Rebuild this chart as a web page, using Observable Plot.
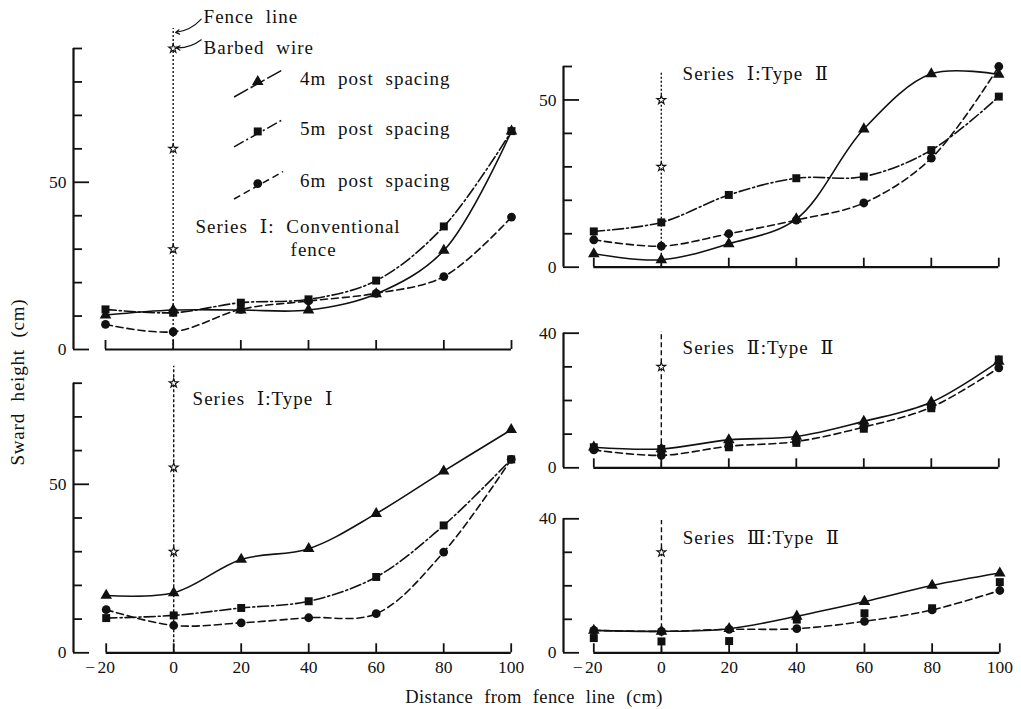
<!DOCTYPE html>
<html><head><meta charset="utf-8">
<script src="https://cdn.jsdelivr.net/npm/d3@7"></script>
<script src="https://cdn.jsdelivr.net/npm/@observablehq/plot@0.6"></script>
<style>
body{margin:0;background:#fff;}
#wrap{position:relative;width:1021px;height:709px;overflow:hidden;font-family:"Liberation Serif","DejaVu Serif",serif;color:#111;background:#fff;}
.panel{position:absolute;}
.ytitle{position:absolute;left:-82px;top:370px;width:200px;height:24px;line-height:24px;text-align:center;transform:rotate(-90deg);transform-origin:100px 12px;font-size:19px;white-space:nowrap;word-spacing:6px;letter-spacing:0.8px;}
.xtitle{position:absolute;left:334px;top:685px;width:400px;height:24px;line-height:24px;text-align:center;font-size:18.5px;white-space:nowrap;word-spacing:6px;letter-spacing:0.4px;}
</style>
</head><body>
<div id="wrap">
  <div class="ytitle">Sward height (cm)</div>
  <div class="xtitle">Distance from fence line (cm)</div>
</div>
<script>
// ---------- data ----------
const distance = [-20, 0, 20, 40, 60, 80, 100];
const spacingLabels = ["4m post spacing", "5m post spacing", "6m post spacing"];

// Series I : Conventional fence
const conv4m = [10.3, 11.8, 11.8, 11.8, 16.6, 29.6, 65.3];
const conv5m = [12.0, 11.0, 14.0, 15.0, 20.6, 36.8, 65.3];
const conv6m = [7.5, 5.3, 12.0, 14.5, 16.8, 21.8, 39.6];
// Series I : Type I
const typeI4m = [17.0, 17.8, 27.7, 30.9, 41.3, 53.9, 66.2];
const typeI5m = [10.3, 11.1, 13.3, 15.3, 22.5, 37.8, 57.4];
const typeI6m = [12.8, 8.1, 8.9, 10.4, 11.6, 29.9, 57.4];
// Series I : Type II
const s1typeII4m = [4.0, 2.2, 7.0, 14.4, 41.3, 57.8, 57.6];
const s1typeII5m = [10.7, 13.4, 21.6, 26.6, 27.1, 35.0, 51.0];
const s1typeII6m = [8.2, 6.3, 10.0, 14.1, 19.2, 32.6, 60.0];
// Series II : Type II
const s2typeII4m = [6.1, 5.6, 8.3, 9.3, 13.8, 19.5, 31.6];
const s2typeII5m = [6.1, 5.6, 6.1, 7.4, 11.6, 17.7, 32.2];
const s2typeII6m = [5.3, 3.7, 6.4, 7.8, 12.1, 18.0, 29.7];
// Series III : Type II
const s3typeII4m = [6.7, 6.4, 7.2, 10.9, 15.3, 20.1, 23.8];
const s3typeII5m = [4.4, 3.4, 3.5, 9.9, 11.8, 13.3, 21.1];
const s3typeII6m = [6.7, 6.4, 7.0, 7.2, 9.4, 12.8, 18.6];

// barbed wire heights on the fence line
const wireConv = [30, 60, 90];
const wireTypeI = [30, 55, 80];
const wireS1TypeII = [30, 50];
const wireS2TypeII = [30];
const wireS3TypeII = [30];

// y tick values
const yTicks90 = [0,10,20,30,40,50,60,70,80,90];
const yTicks80 = [0,10,20,30,40,50,60,70,80];
const yTicks60 = [0,10,20,30,40,50,60];
const yTicks40 = [0,10,20,30,40];
const yLabels50 = [0, 50];
const yLabels40 = [0, 40];

// ---------- styles ----------
const symbols = ["triangle", "square", "circle"];
const radii = [4.3, 4.5, 4.4];
const dashes = [null, "11,3,2,3", "7,4"];
const FONT = "Liberation Serif, DejaVu Serif, serif";
const LABEL = 19;

const panels = [
  {left:40, top:0, width:490, height:360, axisPx:73, xm20:105, x100:511, y0:349, yTop:48, yMax:90,
   yTicks:yTicks90, yLabels:yLabels50, series:[conv4m, conv5m, conv6m], lines:[true,true,true],
   wire:wireConv, fenceTop:96, fenceDash:"2,2", xLabels:false,
   titles:[{t:"Series Ⅰ: Conventional", x:6.6, y:36.8}, {t:"fence", x:34.7, y:29.9}], legend:true},
  {left:40, top:360, width:490, height:330, axisPx:73, xm20:105.7, x100:510.7, y0:652.3, yTop:382.7, yMax:80,
   yTicks:yTicks80, yLabels:yLabels50, series:[typeI4m, typeI5m, typeI6m], lines:[true,true,true],
   wire:wireTypeI, fenceTop:85, fenceDash:"3,2", xLabels:true,
   titles:[{t:"Series Ⅰ:Type Ⅰ", x:5.6, y:75.2}]},
  {left:530, top:50, width:490, height:240, axisPx:563, xm20:593.3, x100:998.3, y0:266.7, yTop:66, yMax:60,
   yTicks:yTicks60, yLabels:yLabels50, series:[s1typeII4m, s1typeII5m, s1typeII6m], lines:[true,true,true],
   wire:wireS1TypeII, fenceTop:58.3, fenceDash:"2,2", xLabels:false,
   titles:[{t:"Series Ⅰ:Type Ⅱ", x:6.3, y:57.9}]},
  {left:530, top:300, width:490, height:180, axisPx:563, xm20:593.3, x100:998.3, y0:467.3, yTop:332.7, yMax:40,
   yTicks:yTicks40, yLabels:yLabels40, series:[s2typeII4m, s2typeII5m, s2typeII6m], lines:[true,false,true],
   wire:wireS2TypeII, fenceTop:40.5, fenceDash:"5,3", xLabels:false,
   titles:[{t:"Series Ⅱ:Type Ⅱ", x:6.3, y:35.5}]},
  {left:530, top:490, width:490, height:200, axisPx:563, xm20:593.3, x100:999.3, y0:652.3, yTop:518.3, yMax:40,
   yTicks:yTicks40, yLabels:yLabels40, series:[s3typeII4m, s3typeII5m, s3typeII6m], lines:[true,false,true],
   wire:wireS3TypeII, fenceTop:39.5, fenceDash:"5,3", xLabels:true,
   titles:[{t:"Series Ⅲ:Type Ⅱ", x:6.3, y:34.4}]}
];

const wrap = document.getElementById("wrap");
const txt = (data, opts) => Plot.text(data, Object.assign({x: "x", y: "y", text: "t", textAnchor: "start", fontSize: LABEL, fontFamily: FONT, fill: "#111"}, opts));

for (const p of panels) {
  const ppx = (p.x100 - p.xm20) / 120;
  const xAxisVal = -20 - (p.xm20 - p.axisPx) / ppx;
  const ppy = (p.y0 - p.yTop) / p.yMax;
  const major = p.yTicks.filter(d => p.yLabels.includes(d));
  const minor = p.yTicks.filter(d => !p.yLabels.includes(d));
  const marks = [
    Plot.ruleX([xAxisVal], {y1: 0, y2: p.yMax, stroke: "#111", strokeWidth: 2.2}),
    Plot.ruleY(minor, {x1: xAxisVal, x2: xAxisVal + 9 / ppx, stroke: "#111", strokeWidth: 1.8}),
    Plot.ruleY(major, {x1: xAxisVal, x2: xAxisVal + 16 / ppx, stroke: "#111", strokeWidth: 1.8}),
    Plot.text(p.yLabels, {x: xAxisVal, y: d => d, text: d => String(d), textAnchor: "end", dx: -7, fontSize: 17.5, fontFamily: FONT, fill: "#111"}),
    Plot.ruleY([0], {x1: -20, x2: 100, stroke: "#111", strokeWidth: 2.2}),
    Plot.ruleX(distance, {y1: 0, y2: 9 / ppy, stroke: "#111", strokeWidth: 1.8}),
    Plot.ruleX([0], {y1: 0, y2: p.fenceTop, stroke: "#111", strokeWidth: 1.4, strokeDasharray: p.fenceDash}),
  ];
  p.series.forEach((vals, k) => {
    const rows = distance.map((d, i) => ({d, v: vals[i]}));
    if (p.lines[k]) marks.push(Plot.line(rows, {x: "d", y: "v", curve: "catmull-rom", stroke: "#111", strokeWidth: 1.6, strokeDasharray: dashes[k]}));
  });
  p.series.forEach((vals, k) => {
    const rows = distance.map((d, i) => ({d, v: vals[i]}));
    marks.push(Plot.dot(rows, {x: "d", y: "v", symbol: symbols[k], r: radii[k], fill: "#111", stroke: "none"}));
  });
  marks.push(Plot.dot(p.wire, {x: 0, y: d => d, symbol: "star", r: 2.8, fill: "white", stroke: "#111", strokeWidth: 1.1}));
  for (const t of p.titles) marks.push(txt([t]));
  if (p.xLabels) {
    marks.push(Plot.text(distance, {x: d => d, y: 0, text: d => String(Math.abs(d)), dy: 15, fontSize: 17.5, fontFamily: FONT, fill: "#111"}));
    marks.push(Plot.text(distance.filter(d => d < 0), {x: d => d, y: 0, text: () => "−", dy: 15, dx: -16, fontSize: 17.5, fontFamily: FONT, fill: "#111"}));
  }
  if (p.legend) {
    const legendY = [80.1, 65.2, 49.6];
    spacingLabels.forEach((lab, k) => {
      const y = legendY[k];
      marks.push(Plot.link([{x1: 18, y1: y - 4.6, x2: 32.5, y2: y + 3.6}], {x1: "x1", y1: "y1", x2: "x2", y2: "y2", stroke: "#111", strokeWidth: 1.5, strokeDasharray: dashes[k] || "16,3"}));
      marks.push(Plot.dot([{x: 25, y}], {x: "x", y: "y", symbol: symbols[k], r: radii[k], fill: "#111"}));
      marks.push(txt([{x: 37.5, y: y + 0.8, t: lab}]));
    });
    marks.push(txt([{x: 9, y: 99.3, t: "Fence line"}]));
    marks.push(txt([{x: 9, y: 90.3, t: "Barbed wire"}]));
    marks.push(Plot.arrow([{x1: 8.3, y1: 98.8, x2: 0.7, y2: 94.8}], {x1: "x1", y1: "y1", x2: "x2", y2: "y2", bend: 20, headLength: 6, stroke: "#111", strokeWidth: 1.1}));
    marks.push(Plot.arrow([{x1: 8.3, y1: 92.6, x2: 0.9, y2: 90.2}], {x1: "x1", y1: "y1", x2: "x2", y2: "y2", bend: 20, headLength: 6, stroke: "#111", strokeWidth: 1.1}));
  }
  const chart = Plot.plot({
    width: p.width, height: p.height,
    marginLeft: p.axisPx - p.left, marginRight: p.left + p.width - p.x100,
    marginTop: p.yTop - p.top, marginBottom: p.top + p.height - p.y0,
    x: {domain: [xAxisVal, 100], axis: null},
    y: {domain: [0, p.yMax], axis: null},
    style: {background: "transparent", fontFamily: FONT, overflow: "visible"},
    marks
  });
  // wide Japanese-style typesetting for the label texts
  chart.querySelectorAll("g[font-size]").forEach(g => {
    if (parseFloat(g.getAttribute("font-size")) === LABEL) {
      g.setAttribute("letter-spacing", "1");
      g.setAttribute("word-spacing", "6");
    }
  });
  const div = document.createElement("div");
  div.className = "panel";
  div.style.left = p.left + "px";
  div.style.top = p.top + "px";
  div.appendChild(chart);
  wrap.appendChild(div);
}
</script>
</body></html>
